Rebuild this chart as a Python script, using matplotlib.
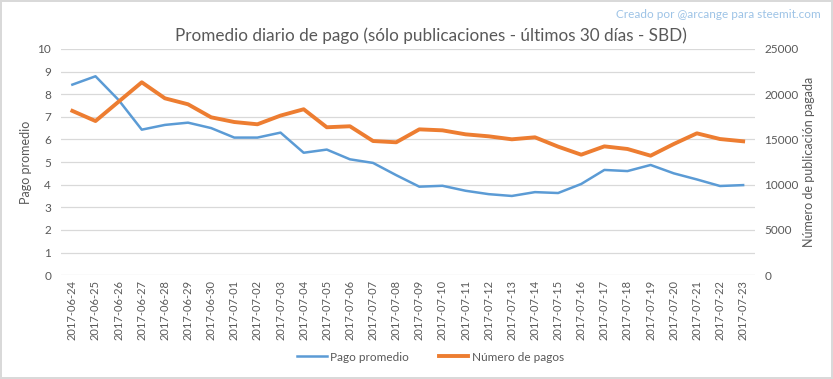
import matplotlib.pyplot as plt
from matplotlib.lines import Line2D

plt.rcParams['font.family'] = ['Lato', 'DejaVu Sans']

# Fechas (últimos 30 días)
dates = ['2017-06-24', '2017-06-25', '2017-06-26', '2017-06-27', '2017-06-28',
         '2017-06-29', '2017-06-30', '2017-07-01', '2017-07-02', '2017-07-03',
         '2017-07-04', '2017-07-05', '2017-07-06', '2017-07-07', '2017-07-08',
         '2017-07-09', '2017-07-10', '2017-07-11', '2017-07-12', '2017-07-13',
         '2017-07-14', '2017-07-15', '2017-07-16', '2017-07-17', '2017-07-18',
         '2017-07-19', '2017-07-20', '2017-07-21', '2017-07-22', '2017-07-23']

# Pago promedio (SBD)
pago_promedio = [8.42, 8.79, 7.74, 6.43, 6.64, 6.74, 6.50, 6.08, 6.08, 6.30,
                 5.41, 5.55, 5.12, 4.96, 4.42, 3.91, 3.95, 3.73, 3.58, 3.50,
                 3.67, 3.63, 4.03, 4.65, 4.60, 4.87, 4.50, 4.23, 3.94, 3.98]

# Número de pagos
numero_pagos = [18150, 17030, 19170, 21310, 19540, 18880, 17440, 16920, 16670, 17630,
                18330, 16340, 16450, 14820, 14680, 16110, 16000, 15560, 15340, 15010,
                15230, 14200, 13310, 14230, 13940, 13200, 14490, 15670, 15040, 14790]

blue = '#5B9BD5'
orange = '#ED7D31'
grey_text = '#595959'
grid_color = '#D9D9D9'

fig = plt.figure(figsize=(8.33, 3.79), dpi=100)
fig.patch.set_edgecolor(grid_color)
fig.patch.set_linewidth(1.5)
ax = fig.add_axes([0.073, 0.274, 0.833, 0.597])
ax2 = ax.twinx()

x = list(range(len(dates)))
ax.plot(x, pago_promedio, color=blue, linewidth=1.8, zorder=3)
ax2.plot(x, numero_pagos, color=orange, linewidth=2.8, zorder=3)

ax.set_xlim(-0.5, len(dates) - 0.5)
ax.set_ylim(0, 10)
ax.set_yticks(range(0, 11))
ax2.set_ylim(0, 25000)
ax2.set_yticks(range(0, 25001, 5000))

ax.grid(axis='y', color=grid_color, linewidth=0.9)
ax.set_axisbelow(True)

for a in (ax, ax2):
    for s in a.spines.values():
        s.set_visible(False)
    a.tick_params(length=0, colors=grey_text, labelsize=8.5)

ax.set_xticks(x)
ax.set_xticklabels(dates, rotation=90, fontsize=8)
ax.tick_params(axis='y', pad=7)
ax2.tick_params(axis='y', pad=7)

ax.set_ylabel('Pago promedio', color=grey_text, fontsize=9, labelpad=4)
ax2.set_ylabel('Número de publicación pagada', color=grey_text, fontsize=9, labelpad=3)

fig.text(0.517, 0.905, 'Promedio diario de pago (sólo publicaciones - últimos 30 días - SBD)',
         ha='center', va='center', fontsize=12.3, color=grey_text)
fig.text(0.985, 0.963, 'Creado por @arcange para steemit.com',
         ha='right', va='center', fontsize=8.5, color='#9DC3E6')

handles = [Line2D([0], [0], color=blue, linewidth=1.8),
           Line2D([0], [0], color=orange, linewidth=2.8)]
fig.legend(handles, ['Pago promedio', 'Número de pagos'], loc='center',
           bbox_to_anchor=(0.517, 0.058), ncol=2, frameon=False, fontsize=8.5,
           labelcolor=grey_text, handlelength=2.5, handletextpad=0.3, columnspacing=2.5)

fig.savefig('out.png', dpi=100)
